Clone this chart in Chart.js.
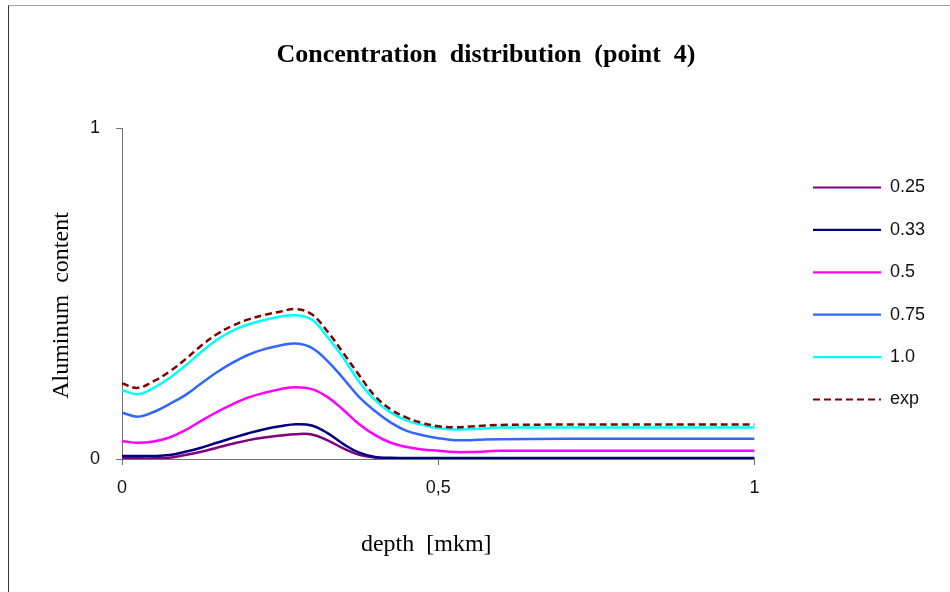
<!DOCTYPE html>
<html>
<head>
<meta charset="utf-8">
<script src="https://cdn.jsdelivr.net/npm/chart.js@4.4.1/dist/chart.umd.min.js"></script>
<style>
  html,body{margin:0;padding:0;background:#fff;overflow:hidden}
  #wrap{position:relative;width:950px;height:592px}
  #frame{position:absolute;left:8px;top:5px;width:1000px;height:700px;border-top:1px solid #a6a6a6;border-left:1px solid #333;pointer-events:none}
</style>
</head>
<body>
<div id="wrap">
  <canvas id="c" width="950" height="592"></canvas>
  <div id="frame"></div>
</div>
<script>
// ── DATA ─────────────────────────────────────────────────
var depth=[0,0.025,0.05,0.075,0.1,0.125,0.15,0.175,0.2,0.225,0.25,0.275,0.3,0.325,0.35,0.375,0.4,0.425,0.45,0.475,0.5,0.525,0.55,0.575,0.6,0.7,0.8,0.9,1];
var s025=[0.003,0.002,0.002,0.004,0.012,0.022,0.034,0.046,0.057,0.065,0.071,0.075,0.074,0.056,0.032,0.013,0.004,0.001,0.001,0.001,0.001,0.001,0.001,0.001,0.001,0.001,0.001,0.001,0.001];
var s033=[0.009,0.009,0.009,0.012,0.022,0.034,0.049,0.064,0.078,0.090,0.099,0.105,0.101,0.078,0.045,0.019,0.006,0.004,0.003,0.003,0.003,0.003,0.003,0.003,0.003,0.003,0.003,0.003,0.003];
var s05 =[0.054,0.049,0.053,0.065,0.087,0.115,0.142,0.166,0.186,0.200,0.211,0.217,0.211,0.187,0.148,0.105,0.072,0.049,0.036,0.029,0.025,0.021,0.021,0.023,0.025,0.025,0.025,0.025,0.025];
var s075=[0.140,0.128,0.142,0.166,0.193,0.228,0.262,0.291,0.315,0.332,0.343,0.349,0.336,0.296,0.243,0.187,0.145,0.110,0.085,0.072,0.063,0.057,0.057,0.059,0.060,0.061,0.061,0.061,0.061];
var s10 =[0.208,0.196,0.215,0.245,0.282,0.323,0.360,0.388,0.407,0.420,0.430,0.434,0.421,0.368,0.305,0.233,0.178,0.140,0.116,0.103,0.093,0.089,0.090,0.093,0.095,0.095,0.095,0.095,0.095];
var sExp=[0.228,0.215,0.235,0.264,0.301,0.342,0.377,0.403,0.422,0.435,0.445,0.453,0.437,0.385,0.320,0.253,0.190,0.150,0.125,0.109,0.099,0.096,0.098,0.101,0.103,0.104,0.104,0.104,0.104];

var seriesNames=['0.25','0.33','0.5','0.75','1.0','exp'];
var seriesData=[s025,s033,s05,s075,s10,sExp];
var seriesColors=['#800080','#000080','#ff00ff','#3366ff','#00ffff','#800000'];

var xTicks=[0,0.5,1];
var xTickLabels=['0','0,5','1'];
var yTicks=[0,1];
var yTickLabels=['0','1'];

function pts(arr){return depth.map(function(d,i){return {x:d,y:arr[i]};});}

var datasets=seriesData.map(function(arr,i){
  var isExp=seriesNames[i]==='exp';
  return {
    label:seriesNames[i],
    data:pts(arr),
    borderColor:seriesColors[i],
    backgroundColor:seriesColors[i],
    borderWidth:2.5,
    borderDash:isExp?[7,4]:[],
    pointRadius:0,
    fill:false,
    tension:0.4,
    order:isExp?0:(6-i)
  };
});

var AX='#707070';
var sans='"Liberation Sans", Arial, sans-serif';
var serif='"Liberation Serif", "Times New Roman", serif';

new Chart(document.getElementById('c').getContext('2d'),{
  type:'line',
  data:{datasets:datasets},
  options:{
    responsive:false,
    animation:false,
    layout:{padding:{left:37,right:15,top:0,bottom:20}},
    plugins:{
      title:{
        display:true,
        text:'Concentration  distribution  (point  4)',
        color:'#000',
        font:{family:serif,size:26,weight:'bold'},
        padding:{top:39.4,bottom:57.4}
      },
      legend:{
        position:'right',
        fullSize:false,
        labels:{
          usePointStyle:true,
          pointStyle:'line',
          pointStyleWidth:68,
          padding:24.4,
          color:'#111',
          font:{family:sans,size:18},
          sort:function(a,b){return a.datasetIndex-b.datasetIndex;},
          generateLabels:function(chart){
            var items=Chart.defaults.plugins.legend.labels.generateLabels(chart);
            items.forEach(function(it){
              var ds=chart.data.datasets[it.datasetIndex];
              it.lineDash=ds.borderDash;
              it.strokeStyle=ds.borderColor;
              it.lineWidth=2.2;
            });
            return items;
          }
        }
      },
      tooltip:{enabled:false}
    },
    scales:{
      x:{
        type:'linear',min:0,max:1,
        afterFit:function(s){s.height=113;},
        afterBuildTicks:function(s){s.ticks=xTicks.map(function(v){return {value:v};});},
        ticks:{
          padding:12,color:'#111',font:{family:sans,size:18},
          callback:function(v){var k=xTicks.indexOf(v);return k>=0?xTickLabels[k]:'';}
        },
        grid:{drawOnChartArea:false,drawTicks:true,tickLength:6,color:AX},
        border:{color:AX,width:1},
        title:{display:true,text:'depth  [mkm]    ',color:'#000',font:{family:serif,size:24},padding:{top:0,bottom:13}}
      },
      y:{
        type:'linear',min:0,max:1,
        afterFit:function(s){s.width=85;},
        afterBuildTicks:function(s){s.ticks=yTicks.map(function(v){return {value:v};});},
        ticks:{
          padding:16,color:'#111',font:{family:sans,size:18},
          callback:function(v){var k=yTicks.indexOf(v);return k>=0?yTickLabels[k]:'';}
        },
        grid:{drawOnChartArea:false,drawTicks:true,tickLength:6,color:AX},
        border:{color:AX,width:1},
        title:{display:true,text:'Aluminum  content    ',color:'#000',font:{family:serif,size:24},padding:{top:10.6,bottom:0}}
      },
      gap:{
        type:'linear',position:'right',display:true,
        afterFit:function(s){s.width=34;},
        ticks:{display:false},
        grid:{display:false},
        border:{display:false}
      }
    }
  }
});
</script>
</body>
</html>
